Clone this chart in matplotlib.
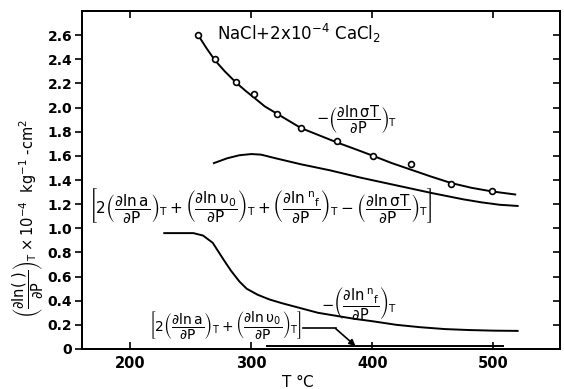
import numpy as np
import matplotlib
matplotlib.use('Agg')
import matplotlib.pyplot as plt

plt.rcParams['font.family'] = ['DejaVu Sans']
plt.rcParams['mathtext.fontset'] = 'dejavusans'
plt.rcParams['mathtext.default'] = 'regular'

# measured points  -(dln sigmaT/dP)_T
pts_T = [256, 270, 287, 302.5, 321, 341, 371, 400.6, 432, 465, 499]
pts_val = [2.60, 2.40, 2.21, 2.11, 1.95, 1.83, 1.72, 1.60, 1.53, 1.37, 1.31]

# smooth curve through them
sig_T = [256, 263, 270, 278, 287, 295, 302.5, 311, 321, 331, 341, 356, 371, 386,
         400.6, 416, 432, 448, 465, 482, 499, 518]
sig_val = [2.60, 2.49, 2.39, 2.30, 2.21, 2.14, 2.08, 2.01, 1.95, 1.89, 1.83, 1.77,
           1.71, 1.655, 1.60, 1.54, 1.485, 1.43, 1.375, 1.335, 1.305, 1.28]

# sum curve [2(a)+(v0)+(nf)-(sigmaT)]
sum_T = [269, 280, 290, 300, 308, 320, 341, 365, 390, 420, 450, 475, 490, 505, 520]
sum_val = [1.54, 1.58, 1.605, 1.615, 1.61, 1.58, 1.53, 1.48, 1.42, 1.355, 1.29,
           1.24, 1.215, 1.195, 1.185]

# -(dln nf/dP)_T
nf_T = [228, 240, 252, 260, 268, 277, 283, 290, 296, 305, 315, 325, 340, 355, 370,
        385, 400, 420, 440, 460, 480, 500, 520]
nf_val = [0.96, 0.96, 0.96, 0.94, 0.88, 0.74, 0.65, 0.56, 0.50, 0.45, 0.41, 0.38,
          0.34, 0.30, 0.275, 0.25, 0.23, 0.20, 0.18, 0.165, 0.157, 0.152, 0.15]

# [2(a)+(v0)]
av_T = [313, 508]
av_val = [0.025, 0.025]

# leader from the small bracket label
lead_T = [343, 369.5, 386]
lead_val = [0.17, 0.17, 0.025]

yticks = [0, 0.2, 0.4, 0.6, 0.8, 1.0, 1.2, 1.4, 1.6, 1.8, 2.0, 2.2, 2.4, 2.6]
ylabels = ['0', '0.2', '0.4', '0.6', '0.8', '1.0', '1.2', '1.4', '1.6', '1.8',
           '2.0', '2.2', '2.4', '2.6']
xticks = [200, 300, 400, 500]

fig = plt.figure(figsize=(5.64, 3.89), dpi=100)
ax = fig.add_axes([82/564, 40/389, 478/564, 338/389])
lw = 1.4

ax.plot(sig_T, sig_val, color='black', lw=lw)
ax.plot(pts_T, pts_val, 'o', mfc='white', mec='black', ms=4.2, mew=1.2)
ax.plot(sum_T, sum_val, color='black', lw=lw)
ax.plot(nf_T, nf_val, color='black', lw=lw)
ax.plot(av_T, av_val, color='black', lw=lw)
ax.plot(lead_T[:2], lead_val[:2], color='black', lw=1.2)
ax.annotate('', xy=(lead_T[2], lead_val[2]), xytext=(lead_T[1], lead_val[1]),
            arrowprops=dict(arrowstyle='-|>', color='black', lw=1.2,
                            shrinkA=0, shrinkB=0, mutation_scale=9))

ax.set_xlim(160, 555)
ax.set_ylim(0, 2.8)
ax.set_xticks(xticks)
ax.set_xticklabels([str(t) for t in xticks])
ax.set_yticks(yticks)
ax.set_yticklabels(ylabels)
ax.tick_params(axis='x', direction='in', top=True, length=5, width=1.2,
               labelsize=10.5, pad=5)
ax.tick_params(axis='y', which='both', direction='out', length=5, width=1.2,
               labelsize=10, pad=2)
for lab in ax.get_xticklabels() + ax.get_yticklabels():
    lab.set_fontweight('bold')
# right side ticks pointing in
axr = ax.twinx()
axr.set_ylim(0, 2.8)
axr.set_yticks(yticks)
axr.tick_params(axis='y', direction='in', length=5, width=1.2, labelright=False)
for a in (ax, axr):
    for s in a.spines.values():
        s.set_linewidth(1.4)

ax.text(271.6, 2.56, r'NaCl+2x10$^{-4}$ CaCl$_2$', fontsize=12, ha='left',
        va='baseline')
ax.text(387, 1.90, r'$-\left(\dfrac{\partial \ln \sigma T}{\partial P}\right)_T$',
        fontsize=10.5, ha='center', va='center')
ax.text(166, 1.19,
        r'$\left[2\left(\dfrac{\partial \ln a}{\partial P}\right)_T+'
        r'\left(\dfrac{\partial \ln \upsilon_0}{\partial P}\right)_T+'
        r'\left(\dfrac{\partial \ln {}^{n}{}_{f}}{\partial P}\right)_T-'
        r'\left(\dfrac{\partial \ln \sigma T}{\partial P}\right)_T\right]$',
        fontsize=11, ha='left', va='center')
ax.text(389, 0.38, r'$-\left(\dfrac{\partial \ln {}^{n}{}_{f}}{\partial P}\right)_T$',
        fontsize=10.5, ha='center', va='center')
ax.text(215, 0.20,
        r'$\left[2\left(\dfrac{\partial \ln a}{\partial P}\right)_T+'
        r'\left(\dfrac{\partial \ln \upsilon_0}{\partial P}\right)_T\right]$',
        fontsize=10, ha='left', va='center')

ax.set_xlabel(r'T $\degree$C', fontsize=11)
ax.xaxis.set_label_coords(0.452, -0.072)
fig.text(0.05, 1 - 218/389,
         r'$\left(\dfrac{\partial \ln (\ )}{\partial P}\right)_T \times 10^{-4}$'
         r'  kg$^{-1}$ -cm$^2$',
         fontsize=10.5, rotation=90, ha='center', va='center')

fig.savefig('out.png', dpi=100)
